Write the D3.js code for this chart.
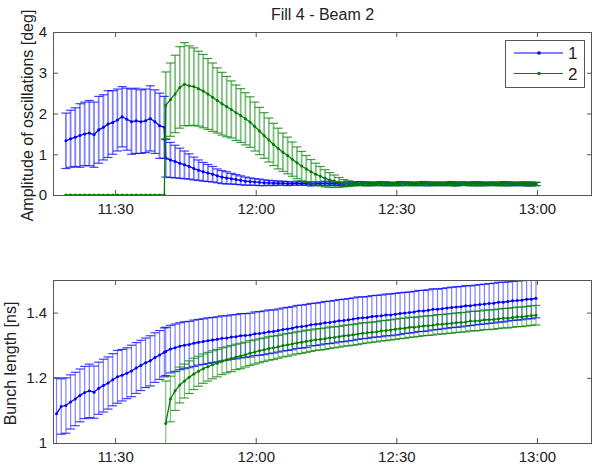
<!DOCTYPE html>
<html><head><meta charset="utf-8">
<script src="https://cdn.jsdelivr.net/npm/d3@7"></script>
<style>
body{margin:0;background:#fff;}
svg{display:block;font-family:"Liberation Sans",Arial,sans-serif;}
</style></head>
<body>
<svg id="chart" width="594" height="469"></svg>
<script>
// sample times, minutes after 11:00
const times = [17.5,18.5,19.5,20.5,21.5,22.5,23.5,24.5,25.5,26.5,27.5,28.5,29.5,30.5,31.5,32.5,33.5,34.5,35.5,36.5,37.5,38.5,39.5,40.5,
40.8,41.8,42.8,43.8,44.8,45.8,46.8,47.8,48.8,49.8,
50.8,51.8,52.8,53.8,54.8,55.8,56.8,57.8,58.8,59.8,
60.8,61.8,62.8,63.8,64.8,65.8,66.8,67.8,68.8,69.8,
70.8,71.8,72.8,73.8,74.8,75.8,76.8,77.8,78.8,79.8,
80.8,81.8,82.8,83.8,84.8,85.8,86.8,87.8,88.8,89.8,
90.8,91.8,92.8,93.8,94.8,95.8,96.8,97.8,98.8,99.8,
100.8,101.8,102.8,103.8,104.8,105.8,106.8,107.8,108.8,109.8,
110.8,111.8,112.8,113.8,114.8,115.8,116.8,117.8,118.8,119.8];

const xTickValues = [30,60,90,120];
const xTickLabels = ["11:30","12:00","12:30","13:00"];
const seriesNames = ["1","2"];

// Top panel: amplitude of oscillations [deg]
const ampBeam1 = [null,null,
1.33,1.38,1.42,1.46,1.50,1.52,1.48,1.60,1.66,1.74,1.78,1.84,1.92,1.86,1.80,1.82,1.80,1.82,1.88,1.80,1.70,1.66,
0.90,0.86,0.82,0.78,0.74,0.70,0.65,0.61,0.57,0.54,
0.51,0.47,0.44,0.42,0.40,0.38,0.36,0.34,0.33,0.32,
0.31,0.30,0.30,0.29,0.29,0.29,0.28,0.28,0.29,0.28,
0.28,0.27,0.28,0.28,0.29,0.28,0.28,0.27,0.27,0.28,
0.28,0.29,0.28,0.28,0.27,0.28,0.28,0.28,0.27,0.27,
0.28,0.28,0.28,0.27,0.28,0.28,0.27,0.27,0.28,0.27,
0.28,0.28,0.27,0.28,0.28,0.27,0.28,0.28,0.27,0.27,
0.28,0.27,0.28,0.28,0.27,0.27,0.28,0.27,0.27,0.27];
const ampErr1 = [null,null,
0.68,0.70,0.72,0.78,0.78,0.80,0.80,0.82,0.80,0.82,0.78,0.76,0.74,0.76,0.80,0.80,0.78,0.78,0.80,0.78,0.80,0.76,
0.46,0.43,0.40,0.37,0.34,0.31,0.28,0.25,0.23,0.21,
0.19,0.17,0.16,0.15,0.13,0.12,0.11,0.10,0.09,0.08,
0.08,0.07,0.06,0.06,0.05,0.05,0.05,0.04,0.05,0.04,
0.04,0.05,0.04,0.04,0.05,0.04,0.04,0.04,0.05,0.04,
0.04,0.04,0.05,0.04,0.04,0.04,0.05,0.04,0.04,0.04,
0.05,0.04,0.04,0.04,0.04,0.05,0.04,0.04,0.04,0.04,
0.04,0.05,0.04,0.04,0.04,0.04,0.05,0.04,0.04,0.04,
0.04,0.04,0.05,0.04,0.04,0.04,0.04,0.05,0.04,0.04];
const ampBeam2 = [null,null,
0,0,0,0,0,0,0,0,0,0,0,0,0,0,0,0,0,0,0,0,0,0,
2.20,2.34,2.48,2.64,2.72,2.68,2.66,2.61,2.55,2.48,
2.40,2.32,2.24,2.17,2.10,2.02,1.95,1.87,1.79,1.68,
1.57,1.46,1.35,1.24,1.14,1.05,0.97,0.88,0.79,0.71,
0.64,0.57,0.51,0.46,0.41,0.37,0.34,0.31,0.29,0.28,
0.27,0.27,0.28,0.27,0.27,0.27,0.28,0.27,0.27,0.27,
0.27,0.28,0.27,0.27,0.27,0.27,0.28,0.27,0.27,0.27,
0.27,0.27,0.27,0.28,0.27,0.27,0.27,0.27,0.27,0.28,
0.27,0.27,0.27,0.27,0.28,0.27,0.27,0.27,0.27,0.27];
const ampErr2 = [null,null,
0,0,0,0,0,0,0,0,0,0,0,0,0,0,0,0,0,0,0,0,0,0,
0.82,0.90,0.95,1.00,1.02,0.98,0.95,0.92,0.90,0.87,
0.84,0.80,0.77,0.74,0.70,0.68,0.66,0.64,0.62,0.60,
0.58,0.56,0.54,0.52,0.50,0.47,0.45,0.42,0.39,0.36,
0.33,0.30,0.27,0.24,0.21,0.18,0.15,0.12,0.09,0.07,
0.05,0.04,0.04,0.05,0.04,0.04,0.04,0.05,0.04,0.04,
0.04,0.05,0.04,0.04,0.04,0.04,0.05,0.04,0.04,0.04,
0.04,0.04,0.05,0.04,0.04,0.04,0.04,0.05,0.04,0.04,
0.04,0.04,0.04,0.05,0.04,0.04,0.04,0.04,0.05,0.04];

// Bottom panel: bunch length [ns]
const lenBeam1 = [1.090,1.112,1.115,1.126,1.135,1.146,1.155,1.160,1.156,1.168,1.176,1.184,1.194,1.203,1.208,1.214,1.221,1.230,1.238,1.246,1.252,1.262,1.270,1.278,
1.281,1.288,1.292,1.297,1.300,1.302,1.306,1.309,1.311,1.314,
1.316,1.318,1.321,1.322,1.325,1.326,1.329,1.330,1.331,1.335,
1.336,1.338,1.341,1.342,1.345,1.348,1.350,1.352,1.356,1.357,
1.359,1.363,1.364,1.366,1.369,1.370,1.372,1.375,1.376,1.378,
1.380,1.383,1.384,1.385,1.388,1.389,1.390,1.393,1.393,1.395,
1.397,1.399,1.400,1.402,1.405,1.405,1.407,1.410,1.410,1.412,
1.414,1.416,1.417,1.418,1.421,1.421,1.423,1.425,1.426,1.428,
1.429,1.432,1.432,1.434,1.436,1.437,1.438,1.441,1.441,1.444];
const lenErr1 = [0.110,0.085,0.085,0.083,0.082,0.081,0.080,0.082,0.080,0.080,0.081,0.080,0.080,0.081,0.079,0.078,0.079,0.078,0.077,0.076,0.077,0.076,0.075,0.075,
0.074,0.073,0.073,0.072,0.072,0.071,0.071,0.070,0.070,0.070,
0.069,0.069,0.069,0.068,0.068,0.068,0.068,0.067,0.067,0.067,
0.067,0.067,0.067,0.066,0.066,0.066,0.066,0.066,0.066,0.066,
0.066,0.065,0.065,0.065,0.065,0.065,0.065,0.065,0.065,0.065,
0.065,0.065,0.064,0.064,0.064,0.064,0.064,0.064,0.064,0.064,
0.064,0.063,0.063,0.063,0.063,0.063,0.063,0.063,0.062,0.062,
0.062,0.062,0.062,0.062,0.062,0.061,0.061,0.061,0.061,0.061,
0.061,0.061,0.061,0.060,0.060,0.060,0.060,0.060,0.060,0.060];
const lenBeam2 = [null,null,null,null,null,null,null,null,null,null,null,null,null,null,null,null,null,null,null,null,null,null,null,null,
1.060,1.135,1.160,1.178,1.190,1.202,1.212,1.220,1.228,1.234,
1.240,1.245,1.251,1.255,1.259,1.264,1.267,1.271,1.276,1.279,
1.283,1.286,1.290,1.292,1.295,1.299,1.301,1.304,1.307,1.309,
1.312,1.314,1.317,1.318,1.320,1.323,1.324,1.326,1.329,1.330,
1.332,1.334,1.337,1.338,1.340,1.341,1.344,1.345,1.347,1.349,
1.351,1.352,1.355,1.355,1.357,1.359,1.360,1.361,1.364,1.364,
1.366,1.367,1.369,1.370,1.371,1.374,1.374,1.375,1.378,1.378,
1.379,1.381,1.383,1.383,1.385,1.387,1.387,1.389,1.391,1.392];
const lenErr2 = [null,null,null,null,null,null,null,null,null,null,null,null,null,null,null,null,null,null,null,null,null,null,null,null,
0.130,0.070,0.060,0.055,0.052,0.050,0.048,0.046,0.045,0.044,
0.043,0.042,0.041,0.040,0.040,0.039,0.039,0.038,0.038,0.037,
0.037,0.036,0.036,0.036,0.035,0.035,0.035,0.034,0.034,0.034,
0.034,0.033,0.033,0.033,0.033,0.033,0.032,0.032,0.032,0.032,
0.032,0.032,0.032,0.031,0.031,0.031,0.031,0.031,0.031,0.031,
0.031,0.031,0.031,0.030,0.030,0.030,0.030,0.030,0.030,0.030,
0.030,0.030,0.030,0.030,0.030,0.030,0.030,0.030,0.030,0.030,
0.030,0.030,0.030,0.030,0.030,0.030,0.030,0.030,0.030,0.030];

const ampTicks = [0,1,2,3,4];
const lenTicks = [1,1.2,1.4];

const colors = ["#0000ff","#008000"];
const svg = d3.select("#chart");
const left = 53, right = 592;
const x = d3.scaleLinear().domain([16.75,131.75]).range([left,right]);
const axisColor = "#555";
const FONT = "Liberation Sans, Arial, sans-serif";

function panel(id, top, bottom, yDomain, yTicks, yLabel, labelX, barW, series){
  const y = d3.scaleLinear().domain(yDomain).range([bottom, top]);
  const g = svg.append("g");
  g.append("clipPath").attr("id","clip"+id).append("rect")
    .attr("x",left).attr("y",top).attr("width",right-left).attr("height",bottom-top);
  const data = g.append("g").attr("clip-path","url(#clip"+id+")");
  series.forEach((s,si)=>{
    const c = colors[si];
    const pts = times.map((t,i)=>({t, m:s.mean[i], e:s.err[i]})).filter(d=>d.m!=null);
    const eg = data.append("g");
    const eb = pts.filter(d=>d.e>0);
    eg.selectAll("line.v").data(eb).join("line")
      .attr("x1",d=>x(d.t)).attr("x2",d=>x(d.t))
      .attr("y1",d=>y(d.m-d.e)).attr("y2",d=>y(d.m+d.e))
      .attr("stroke",c).attr("stroke-opacity",0.5).attr("stroke-width",barW);
    [-1,1].forEach(sg=>{
      eg.selectAll("line.c"+sg).data(eb).join("line")
        .attr("x1",d=>x(d.t)-4.5).attr("x2",d=>x(d.t)+4.5)
        .attr("y1",d=>y(d.m+sg*d.e)).attr("y2",d=>y(d.m+sg*d.e))
        .attr("stroke",c).attr("stroke-opacity",0.75).attr("stroke-width",1.2);
    });
    data.append("path").datum(pts)
      .attr("d", d3.line().x(d=>x(d.t)).y(d=>y(d.m)))
      .attr("fill","none").attr("stroke",c).attr("stroke-width",1.3);
    data.append("g").selectAll("circle").data(pts).join("circle")
      .attr("cx",d=>x(d.t)).attr("cy",d=>y(d.m)).attr("r",1.5).attr("fill",c);
  });
  // axes
  const ax = g.append("g");
  ax.append("g").attr("transform",`translate(0,${bottom})`)
    .call(d3.axisBottom(x).tickValues(xTickValues).tickFormat((d,i)=>xTickLabels[i]).tickSize(-5).tickPadding(8));
  ax.append("g").attr("transform",`translate(0,${top})`)
    .call(d3.axisTop(x).tickValues(xTickValues).tickFormat("").tickSize(-5));
  ax.append("g").attr("transform",`translate(${left},0)`)
    .call(d3.axisLeft(y).tickValues(yTicks).tickFormat(d3.format("~g")).tickSize(-5).tickPadding(6));
  ax.append("g").attr("transform",`translate(${right},0)`)
    .call(d3.axisRight(y).tickValues(yTicks).tickFormat("").tickSize(-5));
  ax.selectAll(".domain").remove();
  ax.selectAll(".tick line").attr("stroke",axisColor);
  ax.selectAll("text").attr("fill","#222").attr("font-family",FONT).attr("font-size",15);
  g.append("rect").attr("x",left+0.5).attr("y",top+0.5).attr("width",right-left-1).attr("height",bottom-top)
    .attr("fill","none").attr("stroke",axisColor).attr("stroke-width",1);
  g.append("text").attr("transform",`translate(${labelX},${(top+bottom)/2 + 2}) rotate(-90)`)
    .attr("text-anchor","middle").attr("font-size",16).attr("fill","#222").text(yLabel);
  return y;
}

panel(1, 32, 195, [0,4], ampTicks, "Amplitude of oscillations [deg]", 32.5, 1.8,
  [{mean:ampBeam1, err:ampErr1},{mean:ampBeam2, err:ampErr2}]);
panel(2, 280, 443, [1,1.5], lenTicks, "Bunch length [ns]", 16, 1.2,
  [{mean:lenBeam1, err:lenErr1},{mean:lenBeam2, err:lenErr2}]);

svg.append("text").attr("x",(left+right)/2).attr("y",20).attr("text-anchor","middle")
  .attr("font-size",16).attr("fill","#222").text("Fill 4 - Beam 2");

// legend
const lg = svg.append("g");
lg.append("rect").attr("x",505.5).attr("y",40.5).attr("width",79).attr("height",47)
  .attr("fill","#fff").attr("stroke",axisColor);
seriesNames.forEach((n,i)=>{
  const yy = 53 + i*20.5;
  lg.append("line").attr("x1",514).attr("x2",563).attr("y1",yy).attr("y2",yy)
    .attr("stroke",colors[i]).attr("stroke-width",1);
  lg.append("circle").attr("cx",539).attr("cy",yy).attr("r",1.8).attr("fill",colors[i]);
  lg.append("text").attr("x",568).attr("y",yy).attr("dy","0.36em").attr("font-size",17)
    .attr("fill","#222").text(n);
});
</script>
</body></html>
